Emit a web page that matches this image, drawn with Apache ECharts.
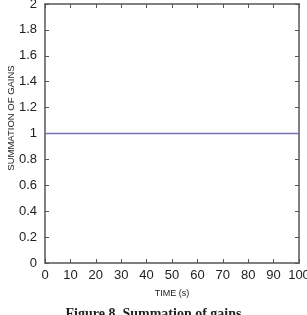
<!DOCTYPE html>
<html><head><meta charset="utf-8">
<script src="https://cdn.jsdelivr.net/npm/echarts@6/dist/echarts.min.js"></script>
<style>html,body{margin:0;padding:0;background:#fff}#c{width:307px;height:315px}</style>
</head><body><div id="c"></div>
<script>
const timeValues = [0, 100];
const gainSum = [1, 1];
const xTicks = [0,10,20,30,40,50,60,70,80,90,100];
const yTicks = [0,0.2,0.4,0.6,0.8,1,1.2,1.4,1.6,1.8,2];
const xName = 'TIME (s)';
const yName = 'SUMMATION OF GAINS';
const caption = 'Figure 8. Summation of gains';

const chart = echarts.init(document.getElementById('c'));
const axisLine = {show:true, onZero:false, lineStyle:{color:'#555', width:1.5}};
const axisTick = {show:true, inside:true, length:4, lineStyle:{color:'#555', width:1}};
chart.setOption({
  animation:false,
  grid:{left:45, right:8, top:4, bottom:52, containLabel:false, outerBoundsMode:'none'},
  xAxis:[{
    type:'value', min:0, max:100, interval:10,
    axisLine, axisTick, splitLine:{show:false},
    axisLabel:{color:'#222', fontSize:13, fontFamily:'Liberation Sans', margin:6,
      formatter:v=>xTicks.includes(v)?String(v):''},
    name:xName, nameLocation:'middle', nameGap:26,
    nameTextStyle:{fontSize:9, color:'#222', fontFamily:'Liberation Sans'}
  },{
    type:'value', position:'top', min:0, max:100, interval:10,
    axisLine, axisTick, axisLabel:{show:false}, splitLine:{show:false}
  }],
  yAxis:[{
    type:'value', min:0, max:2, interval:0.2,
    axisLine, axisTick, splitLine:{show:false},
    axisLabel:{color:'#222', fontSize:13, fontFamily:'Liberation Sans', margin:8,
      formatter:v=>{const r=Math.round(v*10)/10; return yTicks.includes(r)?String(r):'';}}
  },{
    type:'value', position:'right', min:0, max:2, interval:0.2,
    axisLine, axisTick, axisLabel:{show:false}, splitLine:{show:false}
  }],
  graphic:[{
    type:'text', x:11, y:118, rotation:Math.PI/2,
    style:{text:yName, fontSize:9.5, fontFamily:'Liberation Sans', fill:'#222',
      align:'center', verticalAlign:'middle'}
  },{
    type:'text', left:'center', top:307,
    style:{text:caption, fontSize:14, fontWeight:'bold', fontFamily:'Liberation Serif', fill:'#222'}
  }],
  series:[{
    type:'line', showSymbol:false, xAxisIndex:0, yAxisIndex:0,
    data:timeValues.map((t,i)=>[t, gainSum[i]]),
    lineStyle:{color:'#7474b4', width:1.5}
  }]
});
</script></body></html>
